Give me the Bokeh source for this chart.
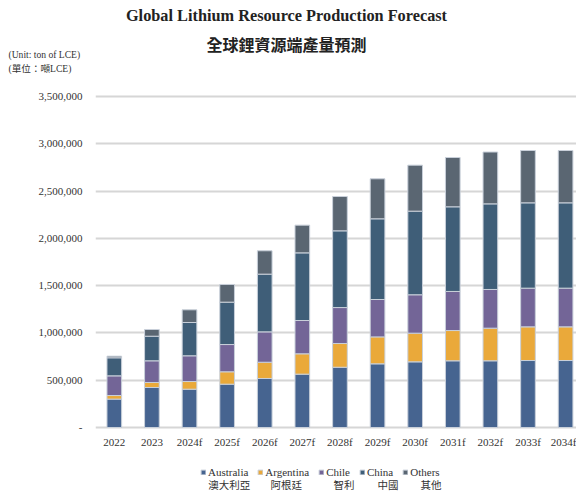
from bokeh.plotting import figure
from bokeh.layouts import column
from bokeh.models import (ColumnDataSource, Range1d, FixedTicker, Label, Legend, LegendItem)
from bokeh.embed import file_html
from bokeh.resources import INLINE

years = ["2022", "2023", "2024f", "2025f", "2026f", "2027f", "2028f",
         "2029f", "2030f", "2031f", "2032f", "2033f", "2034f"]
australia = [300000, 423000, 405000, 458000, 518000, 564000, 637000,
             673000, 694000, 705000, 705000, 708000, 708000]
argentina = [38000, 53000, 81000, 131000, 172000, 215000, 251000,
             285000, 303000, 320000, 345000, 356000, 356000]
chile = [208000, 229000, 272000, 288000, 321000, 352000, 380000,
         395000, 406000, 413000, 409000, 409000, 409000]
china = [191000, 260000, 352000, 448000, 610000, 715000, 811000,
         853000, 884000, 895000, 905000, 902000, 902000]
others = [17000, 71000, 134000, 187000, 247000, 293000, 363000,
          423000, 486000, 521000, 548000, 553000, 553000]

series_en = ["Australia", "Argentina", "Chile", "China", "Others"]
series_zh = ["澳大利亞", "阿根廷", "智利", "中國", "其他"]
colors = ["#466490", "#EAA93A", "#736597", "#3F5E78", "#5A6672"]
y_ticks = [0, 500000, 1000000, 1500000, 2000000, 2500000, 3000000, 3500000]

title_en = "Global Lithium Resource Production Forecast"
title_zh = "全球鋰資源端產量預測"
unit_en = "(Unit: ton of LCE)"
unit_zh = "(單位：噸LCE)"

SERIF = "Liberation Serif"
MIXED = "'Liberation Serif', 'Noto Sans CJK TC'"
CJK = "'Noto Sans CJK TC'"
TXT = "#333333"

data = dict(x=list(range(len(years))), Australia=australia, Argentina=argentina,
            Chile=chile, China=china, Others=others)


def blank(height):
    f = figure(width=576, height=height, output_backend="svg", toolbar_location=None,
               x_range=Range1d(0, 576), y_range=Range1d(0, height),
               x_axis_type=None, y_axis_type=None, min_border=0, frame_align=False)
    f.outline_line_color = None
    f.background_fill_color = "white"
    f.border_fill_color = "white"
    return f


# ---------- header ----------
top = blank(80)
top.add_layout(Label(x=286, y=64.7, x_units="screen", y_units="screen", text=title_en,
                     text_font=SERIF, text_font_style="bold", text_font_size="16.3px",
                     text_color="#222222", text_align="center", text_baseline="middle"))
top.add_layout(Label(x=286, y=36.7, x_units="screen", y_units="screen", text=title_zh,
                     text_font=CJK, text_font_style="bold", text_font_size="16px",
                     text_color="#222222", text_align="center", text_baseline="middle"))
top.add_layout(Label(x=8, y=26, x_units="screen", y_units="screen", text=unit_en,
                     text_font=SERIF, text_font_size="9.6px", text_color=TXT,
                     text_align="left", text_baseline="middle"))
top.add_layout(Label(x=8, y=12, x_units="screen", y_units="screen", text=unit_zh,
                     text_font=MIXED, text_font_size="9.6px", text_color=TXT,
                     text_align="left", text_baseline="middle"))

# ---------- main chart ----------
p = figure(width=576, height=372, output_backend="svg", toolbar_location=None,
           x_range=Range1d(-0.5, 12.29), y_range=Range1d(-31700, 3604700),
           min_border_left=95, min_border_right=0, min_border_top=6,
           min_border_bottom=22, frame_align=False)
p.outline_line_color = None
p.background_fill_color = "white"
p.border_fill_color = "white"

p.vbar_stack(series_en, x="x", width=0.39, source=ColumnDataSource(data),
             color=colors, line_color="#c9d0da", line_width=1)

p.xaxis.ticker = FixedTicker(ticks=list(range(len(years))))
p.xaxis.major_label_overrides = {i: y for i, y in enumerate(years)}
p.yaxis.ticker = FixedTicker(ticks=y_ticks)
p.yaxis.major_label_overrides = {t: ("-" if t == 0 else f"{t:,}") for t in y_ticks}
for ax in (p.xaxis, p.yaxis):
    ax.axis_line_color = None
    ax.major_tick_line_color = None
    ax.minor_tick_line_color = None
    ax.major_tick_out = 0
    ax.major_tick_in = 0
    ax.minor_tick_out = 0
    ax.minor_tick_in = 0
    ax.major_label_text_font = SERIF
    ax.major_label_text_font_size = "11px"
    ax.major_label_text_color = TXT
p.xaxis.major_label_standoff = 5
p.yaxis.major_label_standoff = 13
p.xgrid.grid_line_color = None
p.ygrid.grid_line_color = "#d6d6d6"
p.ygrid.grid_line_width = 2

# ---------- legend ----------
leg = blank(40)
leg.x_range = Range1d(-1000, -999)
leg.y_range = Range1d(-100, -60)
leg_rs = leg.vbar_stack(series_en, x="x", width=0.39, source=ColumnDataSource(data),
                        color=colors, line_color="#c9d0da", line_width=1)
legend = Legend(items=[LegendItem(label=n, renderers=[r]) for n, r in zip(series_en, leg_rs)],
                orientation="horizontal", location=(200, 14.5), nrows=1,
                glyph_width=6, glyph_height=6, label_standoff=2, spacing=9,
                padding=0, margin=0, label_height=12, label_width=10,
                label_text_font=SERIF, label_text_font_size="11px",
                label_text_color=TXT, border_line_color=None,
                background_fill_alpha=0)
leg.add_layout(legend, "center")
zh_x = [207.7, 270, 333, 377, 420]
for zx, zt in zip(zh_x, series_zh):
    leg.add_layout(Label(x=zx, y=8.5, x_units="screen", y_units="screen", text=zt,
                         text_font=CJK, text_font_size="10.5px", text_color=TXT,
                         text_align="left", text_baseline="middle"))

layout = column(top, p, leg, spacing=0)
open("out.html", "w").write(file_html(layout, INLINE))
